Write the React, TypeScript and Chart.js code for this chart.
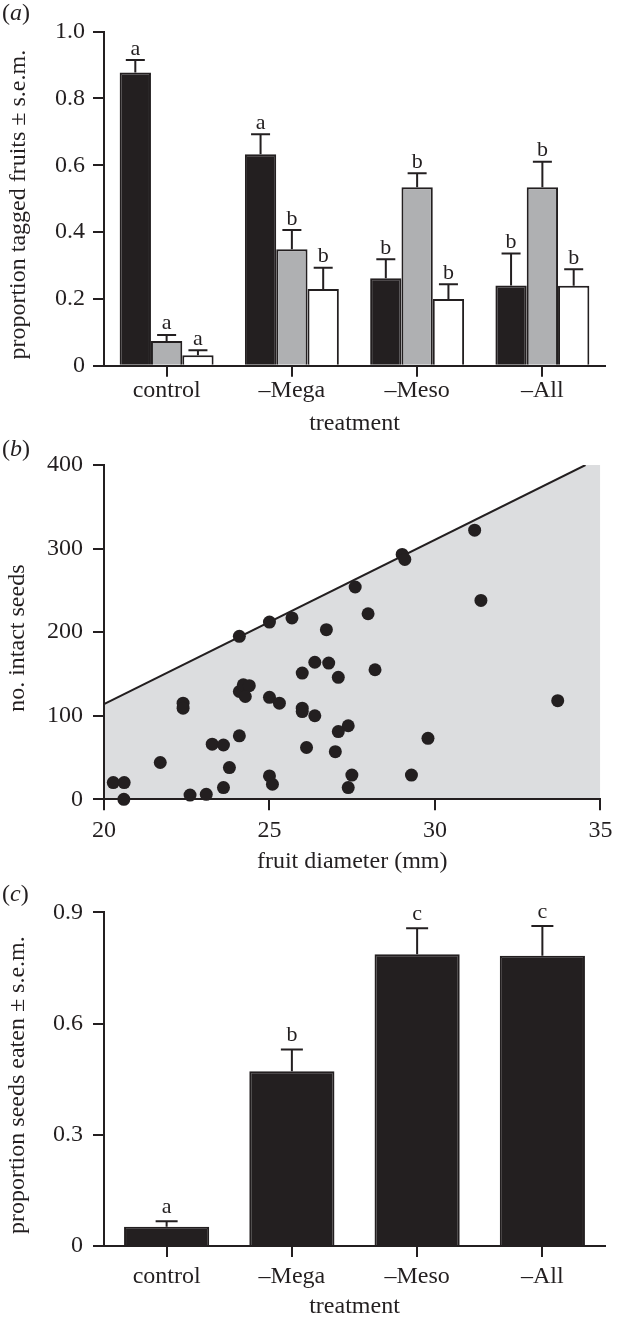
import React, { useEffect, useRef } from 'react';
import { Chart, registerables } from 'chart.js';

Chart.register(...registerables);

const INK = '#231f20';
const GRAY_BAR = '#afb0b2';
const SHADE = '#dcdddf';
const FONT = '"Liberation Serif", "Times New Roman", Times, serif';

// ---------- shared categories ----------
const treatments = ['control', '\u2013Mega', '\u2013Meso', '\u2013All'];

// ---------- panel (a): proportion tagged fruits ----------
const tagBlack = [0.878, 0.633, 0.262, 0.240];
const tagBlackErr = [0.037, 0.060, 0.057, 0.096];
const tagBlackLetters = ['a', 'a', 'b', 'b'];
const tagGray = [0.074, 0.349, 0.534, 0.534];
const tagGrayErr = [0.018, 0.057, 0.042, 0.077];
const tagGrayLetters = ['a', 'b', 'b', 'b'];
const tagWhite = [0.031, 0.230, 0.200, 0.239];
const tagWhiteErr = [0.015, 0.063, 0.044, 0.050];
const tagWhiteLetters = ['a', 'b', 'b', 'b'];

// ---------- panel (b): intact seeds vs fruit diameter ----------
const diameterMm = [
  20.28, 20.61, 20.6, 21.7, 22.39, 22.39, 22.6, 23.09, 23.27, 23.61,
  23.79, 23.61, 24.09, 24.09, 24.09, 24.21, 24.39, 24.27, 25.0, 25.0,
  25.3, 25.0, 25.09, 25.68, 25.99, 25.99, 25.99, 26.12, 26.37, 26.37,
  31.2, 29.01, 29.09, 27.59, 31.39, 27.98, 26.72, 26.79, 27.08, 28.19,
  33.71, 27.38, 27.08, 29.79, 26.99, 27.49, 27.38, 29.29,
];
const intactSeeds = [
  20, 20, 0, 44, 115, 109, 5, 6, 66, 65,
  38, 14, 76, 195, 129, 137, 136, 123, 212, 122,
  115, 28, 18, 217, 151, 109, 105, 62, 100, 164,
  322, 293, 287, 254, 238, 222, 203, 163, 146, 155,
  118, 88, 81, 73, 57, 29, 14, 29,
];
const limitX = [20, 34.55];
const limitY = [114, 400];
const shadeEndX = 35;

// ---------- panel (c): proportion seeds eaten ----------
const eaten = [0.052, 0.471, 0.787, 0.783];
const eatenErr = [0.015, 0.059, 0.070, 0.080];
const eatenLetters = ['a', 'b', 'c', 'c'];

const propTick = (v: any) => (Number(v) === 0 ? '0' : Number(v).toFixed(1));

type ErrSet = { err: number[]; letters: string[] };

function makeErrorPlugin(sets: ErrSet[], cap: number, gap: number, fontSize: number) {
  return {
    id: 'errorBarsLocal',
    afterDatasetsDraw(chart: any) {
      const ctx = chart.ctx;
      const yScale = chart.scales.y;
      ctx.save();
      ctx.strokeStyle = INK;
      ctx.fillStyle = INK;
      ctx.lineWidth = 2;
      ctx.lineCap = 'butt';
      ctx.font = `${fontSize}px ${FONT}`;
      ctx.textAlign = 'center';
      ctx.textBaseline = 'alphabetic';
      sets.forEach((s, di) => {
        const meta = chart.getDatasetMeta(di);
        const values = chart.data.datasets[di].data as number[];
        meta.data.forEach((el: any, i: number) => {
          const v = values[i];
          const top = yScale.getPixelForValue(v + s.err[i]);
          const base = yScale.getPixelForValue(v);
          ctx.beginPath();
          ctx.moveTo(el.x, base);
          ctx.lineTo(el.x, top);
          ctx.moveTo(el.x - cap / 2, top);
          ctx.lineTo(el.x + cap / 2, top);
          ctx.stroke();
          ctx.fillText(s.letters[i], el.x, top - gap);
        });
      });
      ctx.restore();
    },
  };
}

// vertical axis title drawn at a chosen centre (the source centres it slightly below the axis middle)
function makeYTitlePlugin(text: string, x: number, shiftY: number) {
  return {
    id: 'yTitleLocal',
    afterDraw(chart: any) {
      const ctx = chart.ctx;
      const area = chart.chartArea;
      const cy = (area.top + area.bottom) / 2 + shiftY;
      ctx.save();
      ctx.translate(x, cy);
      ctx.rotate(-Math.PI / 2);
      ctx.font = `24px ${FONT}`;
      ctx.fillStyle = INK;
      ctx.textAlign = 'center';
      ctx.textBaseline = 'middle';
      ctx.fillText(text, 0, 0);
      ctx.restore();
    },
  };
}

function axis(tickLen: number, pad: number) {
  return {
    grid: {
      drawOnChartArea: false,
      drawTicks: true,
      tickLength: tickLen,
      color: INK,
      lineWidth: 2,
      z: 1,
    },
    border: { display: true, color: INK, width: 2, z: 1 },
    ticks: { color: INK, font: { family: FONT, size: 24 }, padding: pad, maxRotation: 0, autoSkip: false },
  };
}

function titleOpt(text: string, top: number, bottom: number) {
  return {
    display: true,
    text,
    color: INK,
    font: { family: FONT, size: 24 },
    padding: { top, bottom },
  };
}

const baseOptions = {
  animation: false as const,
  responsive: false,
  maintainAspectRatio: false,
  devicePixelRatio: 1,
  events: [] as any[],
  plugins: { legend: { display: false }, tooltip: { enabled: false } },
};

export default function App() {
  const refA = useRef<HTMLCanvasElement>(null);
  const refB = useRef<HTMLCanvasElement>(null);
  const refC = useRef<HTMLCanvasElement>(null);

  useEffect(() => {
    const charts: Chart[] = [];

    // ----- (a) -----
    const ax = axis(11, 0);
    const ay = axis(11, 8);
    charts.push(
      new Chart(refA.current!, {
        type: 'bar',
        data: {
          labels: treatments,
          datasets: [
            { data: tagBlack, backgroundColor: INK, borderColor: INK, borderWidth: 2 },
            { data: tagGray, backgroundColor: GRAY_BAR, borderColor: INK, borderWidth: 2 },
            { data: tagWhite, backgroundColor: '#ffffff', borderColor: INK, borderWidth: 2 },
          ],
        },
        options: {
          ...baseOptions,
          layout: { padding: { left: 0, right: 13, top: 31.7, bottom: 0 } },
          datasets: { bar: { categoryPercentage: 0.75, barPercentage: 1 } },
          scales: {
            x: {
              ...ax,
              offset: true,
              grid: { ...ax.grid, offset: false },
              title: titleOpt('treatment', 0, 1.6),
              afterFit: (s: any) => { s.height = 74.3; },
            },
            y: {
              ...ay,
              min: 0,
              max: 1,
              ticks: { ...ay.ticks, stepSize: 0.2, callback: propTick },
              title: { display: false },
              afterFit: (s: any) => { s.width = 104; },
            },
          },
        } as any,
        plugins: [
          makeErrorPlugin(
            [
              { err: tagBlackErr, letters: tagBlackLetters },
              { err: tagGrayErr, letters: tagGrayLetters },
              { err: tagWhiteErr, letters: tagWhiteLetters },
            ],
            19,
            5.5,
            22,
          ),
          makeYTitlePlugin('proportion tagged fruits \u00b1 s.e.m.', 19, 6),
        ],
      }),
    );

    // ----- (b) -----
    const bx = axis(11, 5.6);
    const by = axis(11, 10);
    const pts = diameterMm.map((d, i) => ({ x: d, y: intactSeeds[i] }));
    const limitPts = limitX.map((x, i) => ({ x, y: limitY[i] }));
    const shadePts = [...limitPts, { x: shadeEndX, y: limitY[limitY.length - 1] }];
    charts.push(
      new Chart(refB.current!, {
        type: 'scatter',
        data: {
          datasets: [
            {
              type: 'scatter',
              data: pts,
              pointRadius: 6.5,
              pointBackgroundColor: INK,
              backgroundColor: INK,
              pointBorderWidth: 0,
              borderWidth: 0,
              clip: false,
              order: 0,
            },
            {
              type: 'line',
              data: limitPts,
              showLine: true,
              borderColor: INK,
              borderWidth: 2,
              pointRadius: 0,
              fill: false,
              order: 1,
            },
            {
              type: 'line',
              data: shadePts,
              showLine: true,
              borderColor: 'rgba(0,0,0,0)',
              borderWidth: 0,
              backgroundColor: SHADE,
              pointRadius: 0,
              fill: 'origin',
              order: 2,
            },
          ],
        },
        options: {
          ...baseOptions,
          layout: { padding: { left: 0, right: 13, top: 25, bottom: 0 } },
          scales: {
            x: {
              ...bx,
              type: 'linear',
              min: 20,
              max: 35,
              ticks: { ...bx.ticks, stepSize: 5 },
              title: titleOpt('fruit diameter (mm)', 0, 3.6),
              afterFit: (s: any) => { s.height = 80.7; },
            },
            y: {
              ...by,
              type: 'linear',
              min: 0,
              max: 400,
              ticks: { ...by.ticks, stepSize: 100 },
              title: { display: false },
              afterFit: (s: any) => { s.width = 104; },
            },
          },
        } as any,
        plugins: [makeYTitlePlugin('no. intact seeds', 18, 6)],
      }),
    );

    // ----- (c) -----
    const cx = axis(11, 5.6);
    const cy = axis(11, 10);
    charts.push(
      new Chart(refC.current!, {
        type: 'bar',
        data: {
          labels: treatments,
          datasets: [{ data: eaten, backgroundColor: INK, borderColor: INK, borderWidth: 2 }],
        },
        options: {
          ...baseOptions,
          layout: { padding: { left: 0, right: 13, top: 32.3, bottom: 0 } },
          datasets: { bar: { categoryPercentage: 0.68, barPercentage: 1 } },
          scales: {
            x: {
              ...cx,
              offset: true,
              grid: { ...cx.grid, offset: false },
              title: titleOpt('treatment', 0, 0.6),
              afterFit: (s: any) => { s.height = 76; },
            },
            y: {
              ...cy,
              min: 0,
              max: 0.9,
              ticks: { ...cy.ticks, stepSize: 0.3, callback: propTick },
              title: { display: false },
              afterFit: (s: any) => { s.width = 104; },
            },
          },
        } as any,
        plugins: [
          makeErrorPlugin([{ err: eatenErr, letters: eatenLetters }], 22, 8, 22),
          makeYTitlePlugin('proportion seeds eaten \u00b1 s.e.m.', 18, 6),
        ],
      }),
    );

    return () => charts.forEach((c) => c.destroy());
  }, []);

  const labelStyle = (top: number): React.CSSProperties => ({
    position: 'absolute',
    left: 2,
    top,
    fontFamily: FONT,
    fontSize: 24,
    lineHeight: '24px',
    color: INK,
  });
  const canvasStyle = (top: number, h: number): React.CSSProperties => ({
    position: 'absolute',
    left: 0,
    top,
    width: 618,
    height: h,
    display: 'block',
  });

  return (
    <div style={{ position: 'absolute', left: 0, top: 0, width: 618, height: 1322, background: '#fff', overflow: 'hidden' }}>
      <canvas ref={refA} width={618} height={440} style={canvasStyle(0, 440)} />
      <canvas ref={refB} width={618} height={440} style={canvasStyle(440, 440)} />
      <canvas ref={refC} width={618} height={442} style={canvasStyle(880, 442)} />
      <div style={labelStyle(0)}>(<i>a</i>)</div>
      <div style={labelStyle(436)}>(<i>b</i>)</div>
      <div style={labelStyle(881)}>(<i>c</i>)</div>
    </div>
  );
}
